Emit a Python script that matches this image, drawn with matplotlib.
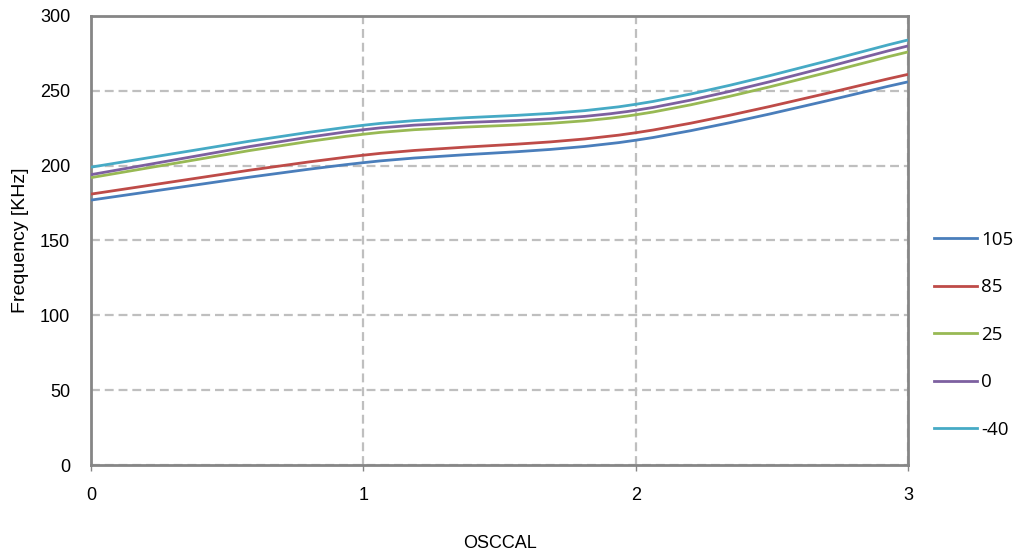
import matplotlib
matplotlib.use("Agg")
import matplotlib.pyplot as plt
from matplotlib.path import Path
from matplotlib.patches import PathPatch
from matplotlib.lines import Line2D

# ---- data ----
osccal = [0, 1, 2, 3]
series_names = ["105", "85", "25", "0", "-40"]
f_105 = [177, 202, 217, 256]
f_85 = [181, 207, 222, 261]
f_25 = [192, 221, 234, 276]
f_0 = [194, 224, 237, 280]
f_m40 = [199, 227, 241, 284]
y_ticks = [0, 50, 100, 150, 200, 250, 300]
x_ticks = [0, 1, 2, 3]

series = [f_105, f_85, f_25, f_0, f_m40]
colors = ["#4A7EBB", "#BE4B48", "#98B954", "#7D60A0", "#46AAC5"]

fig = plt.figure(figsize=(10.21, 5.6), dpi=100)
ax = fig.add_axes([91/1021, 1-465/560, (908-91)/1021, (465-16)/560])


def smooth_path(xs, ys):
    """Excel-style smoothed line: Bezier segments through the data points."""
    n = len(xs)
    verts = [(xs[0], ys[0])]
    codes = [Path.MOVETO]
    for i in range(n - 1):
        i0 = max(i - 1, 0)
        i3 = min(i + 2, n - 1)
        c1 = (xs[i] + (xs[i + 1] - xs[i0]) / 6, ys[i] + (ys[i + 1] - ys[i0]) / 6)
        c2 = (xs[i + 1] - (xs[i3] - xs[i]) / 6, ys[i + 1] - (ys[i3] - ys[i]) / 6)
        verts += [c1, c2, (xs[i + 1], ys[i + 1])]
        codes += [Path.CURVE4] * 3
    return Path(verts, codes)


handles = []
for name, ys, c in zip(series_names, series, colors):
    patch = PathPatch(smooth_path(osccal, ys), fill=False, edgecolor=c,
                      linewidth=2.0, capstyle="butt", zorder=3)
    ax.add_patch(patch)
    handles.append(Line2D([], [], color=c, linewidth=2.0, label=name))

ax.set_xlim(0, 3)
ax.set_ylim(0, 300)
ax.set_xticks(x_ticks)
ax.set_yticks(y_ticks)

arial = ["Liberation Sans", "DejaVu Sans"]
ax.set_xticklabels([str(t) for t in x_ticks], family=arial, fontsize=13)
ax.set_yticklabels([str(t) for t in y_ticks], family=arial, fontsize=13)
ax.tick_params(axis="x", length=4, width=1, color="#868686", pad=12)
ax.tick_params(axis="y", length=0, pad=15)

ax.grid(True, color="#BFBFBF", linestyle=(0, (4, 2.2)), linewidth=1.6, zorder=0)
ax.set_axisbelow(True)
for s in ax.spines.values():
    s.set_color("#868686")
    s.set_linewidth(2)

ax.set_xlabel("OSCCAL", family=arial, fontsize=13, labelpad=22)
ax.set_ylabel("Frequency [KHz]", family=arial, fontsize=14, labelpad=8)

leg = ax.legend(handles=handles, loc="center left", bbox_to_anchor=(1.023, 0.29),
                frameon=False, prop={"family": ["Open Sans", "DejaVu Sans"], "size": 13.5},
                handlelength=2.3, handletextpad=0.2, labelspacing=1.58,
                borderaxespad=0)

fig.savefig("out.png", dpi=100)
